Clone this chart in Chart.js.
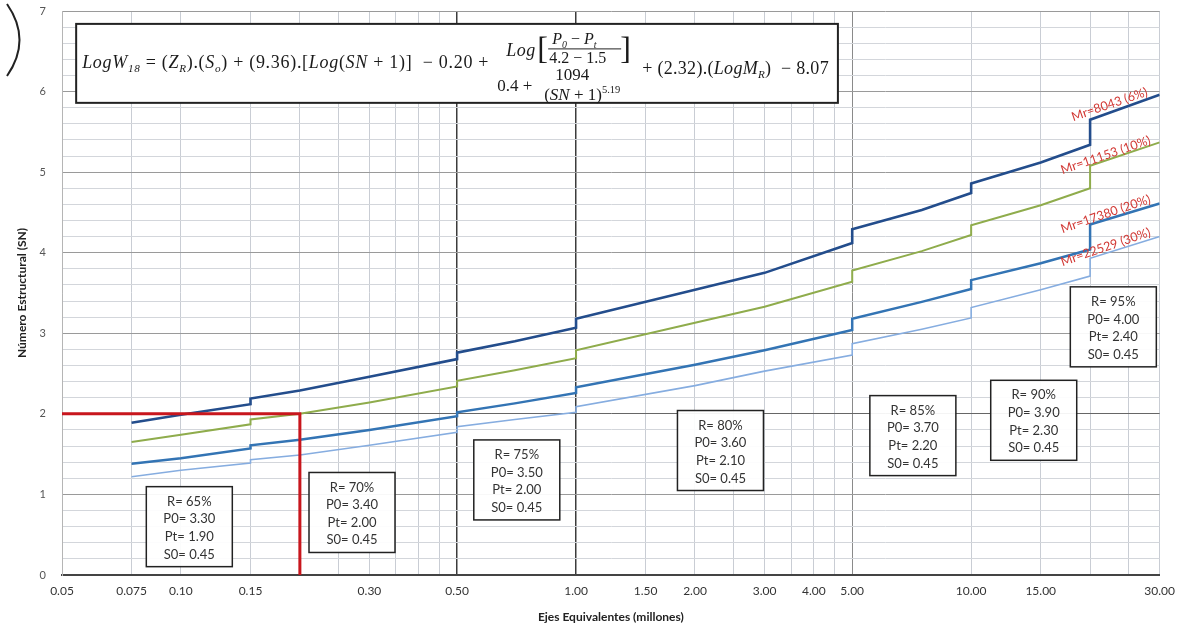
<!DOCTYPE html>
<html>
<head>
<meta charset="utf-8">
<script src="https://cdn.jsdelivr.net/npm/chart.js@4.4.1/dist/chart.umd.min.js"></script>
<style>
  html, body { margin: 0; padding: 0; background: #fff; }
  #wrap { position: relative; width: 1184px; height: 631px; }
</style>
</head>
<body>
<div id="wrap"><canvas id="snChart"></canvas></div>
<script>
// Ejes equivalentes (millones) donde se leen las curvas; los valores repetidos son los saltos
const ejes = [0.075, 0.10, 0.15, 0.15, 0.20, 0.30, 0.50, 0.50, 0.70, 1.00, 1.00, 2.00, 3.00, 5.00, 5.00, 7.50, 10.00, 10.00, 15.00, 20.00, 20.00, 30.00];

// Numero estructural (SN) por modulo resiliente
const snMr8043  = [1.89, 1.99, 2.12, 2.19, 2.29, 2.46, 2.68, 2.76, 2.90, 3.07, 3.18, 3.54, 3.75, 4.12, 4.29, 4.53, 4.74, 4.86, 5.12, 5.34, 5.65, 5.96];
const snMr11153 = [1.65, 1.74, 1.87, 1.93, 2.00, 2.14, 2.34, 2.41, 2.54, 2.69, 2.79, 3.13, 3.33, 3.64, 3.78, 4.02, 4.22, 4.34, 4.59, 4.80, 5.08, 5.37];
const snMr17380 = [1.38, 1.45, 1.57, 1.61, 1.68, 1.80, 1.97, 2.02, 2.13, 2.26, 2.33, 2.61, 2.79, 3.04, 3.18, 3.39, 3.55, 3.66, 3.87, 4.04, 4.35, 4.61];
const snMr22529 = [1.22, 1.30, 1.39, 1.43, 1.49, 1.61, 1.77, 1.84, 1.93, 2.02, 2.09, 2.35, 2.53, 2.73, 2.87, 3.05, 3.19, 3.32, 3.54, 3.71, 3.93, 4.20];

const curvas = ['Mr=8043 (6%)', 'Mr=11153 (10%)', 'Mr=17380 (20%)', 'Mr=22529 (30%)'];
const coloresCurva = ['#234d8c', '#8fac4c', '#3374b4', '#86ade0'];
const anchosCurva = [2.6, 2, 2.5, 1.6];
// donde va cada etiqueta Mr (en unidades del grafico)
const etiquetaX = [22.4, 21.9, 21.9, 21.9];
const etiquetaY = [5.84, 5.21, 4.48, 4.07];

// linea roja de lectura
const lecturaX = [0.05, 0.20, 0.20];
const lecturaY = [2.00, 2.00, 0.00];

// lineas verticales de la grilla y sus rotulos
const xGrid = [0.05, 0.075, 0.10, 0.15, 0.20, 0.25, 0.30, 0.35, 0.40, 0.45, 0.50, 1.00, 1.50, 2.00, 2.50, 3.00, 3.50, 4.00, 4.50, 5.00, 10.00, 15.00, 20.00, 25.00, 30.00];
const xRotulos = ['0.05', '0.075', '0.10', '0.15', '', '', '0.30', '', '', '', '0.50', '1.00', '1.50', '2.00', '', '3.00', '', '4.00', '', '5.00', '10.00', '15.00', '', '', '30.00'];

// cuadros de confiabilidad
const cajaX  = [0.105, 0.271, 0.708, 2.32, 7.12, 14.4, 22.9];
const cajaY  = [0.60, 0.776, 1.18, 1.545, 1.73, 1.92, 3.08];
const cajaR  = ['65', '70', '75', '80', '85', '90', '95'];
const cajaP0 = ['3.30', '3.40', '3.50', '3.60', '3.70', '3.90', '4.00'];
const cajaPt = ['1.90', '2.00', '2.00', '2.10', '2.20', '2.30', '2.40'];
const cajaS0 = ['0.45', '0.45', '0.45', '0.45', '0.45', '0.45', '0.45'];

// esquinas del cuadro de la ecuacion
const ecuacionX = [0.0543, 4.6];
const ecuacionY = [6.84, 5.86];

const SANS = 'Lato, "Open Sans", sans-serif';
const SERIF = '"Liberation Serif", "DejaVu Serif", serif';

function puntos(xs, ys) {
    return xs.map((v, i) => ({ x: v, y: ys[i] }));
}

function tramos(ctx, x0, yBase, partes, size, esp) {
    let xx = x0;
    ctx.letterSpacing = (esp || 0) + 'px';
    partes.forEach(([t, tipo]) => {
        let s = size, dy = 0, estilo = '';
        if (tipo === 'i') estilo = 'italic ';
        if (tipo === 'sub') { s = size * 0.62; dy = size * 0.25; estilo = 'italic '; }
        if (tipo === 'sup') { s = size * 0.62; dy = -size * 0.42; }
        ctx.font = `${estilo}${s}px ${SERIF}`;
        ctx.fillText(t, xx, yBase + dy);
        xx += ctx.measureText(t).width;
    });
    ctx.letterSpacing = '0px';
    return xx;
}

const notas = {
    id: 'notas',
    afterDatasetsDraw(chart) {
        const { ctx, scales: { x, y } } = chart;
        ctx.save();

        // marca del escaneo arriba a la izquierda
        ctx.strokeStyle = '#222';
        ctx.lineWidth = 2;
        ctx.beginPath();
        ctx.moveTo(7, 4);
        ctx.quadraticCurveTo(32, 40, 7, 76);
        ctx.stroke();

        // etiquetas Mr
        ctx.fillStyle = '#d23a36';
        ctx.font = `12.5px ${SANS}`;
        ctx.textAlign = 'center';
        ctx.textBaseline = 'middle';
        curvas.forEach((t, i) => {
            ctx.save();
            ctx.translate(x.getPixelForValue(etiquetaX[i]), y.getPixelForValue(etiquetaY[i]));
            ctx.rotate(-19 * Math.PI / 180);
            ctx.fillText(t, 0, 0);
            ctx.restore();
        });

        // cuadros R / P0 / Pt / S0
        cajaX.forEach((cx, i) => {
            const px = x.getPixelForValue(cx);
            const py = y.getPixelForValue(cajaY[i]);
            const w = 86, h = 80;
            ctx.fillStyle = 'rgba(255,255,255,0.93)';
            ctx.fillRect(px - w / 2, py - h / 2, w, h);
            ctx.strokeStyle = '#222';
            ctx.lineWidth = 1.5;
            ctx.strokeRect(px - w / 2, py - h / 2, w, h);
            ctx.fillStyle = '#333';
            ctx.font = `13px ${SANS}`;
            ctx.textAlign = 'center';
            ctx.textBaseline = 'middle';
            const lineas = [`R= ${cajaR[i]}%`, `P0= ${cajaP0[i]}`, `Pt= ${cajaPt[i]}`, `S0= ${cajaS0[i]}`];
            lineas.forEach((t, k) => ctx.fillText(t, px, py - h / 2 + 15 + k * 17.6));
        });

        // cuadro de la ecuacion AASHTO
        const L = x.getPixelForValue(ecuacionX[0]);
        const R = x.getPixelForValue(ecuacionX[1]);
        const T = y.getPixelForValue(ecuacionY[0]);
        const B = y.getPixelForValue(ecuacionY[1]);
        ctx.fillStyle = '#fff';
        ctx.fillRect(L, T, R - L, B - T);
        ctx.strokeStyle = '#222';
        ctx.lineWidth = 2;
        ctx.strokeRect(L, T, R - L, B - T);

        ctx.fillStyle = '#1a1a1a';
        ctx.textAlign = 'left';
        ctx.textBaseline = 'alphabetic';
        tramos(ctx, L + 6, T + 44, [
            ['LogW', 'i'], ['18', 'sub'], [' = (', ''], ['Z', 'i'], ['R', 'sub'], [').(', ''],
            ['S', 'i'], ['o', 'sub'], [') + (9.36).[', ''], ['Log', 'i'], ['(', ''], ['SN', 'i'],
            [' + 1)]  − 0.20 +', '']
        ], 18, 0.7);

        // numerador: Log [ (P0 - Pt) / (4.2 - 1.5) ]
        tramos(ctx, L + 430, T + 32, [['Log', 'i']], 18, 0.5);
        ctx.font = `32px ${SERIF}`;
        ctx.fillText('[', L + 461, T + 35);
        ctx.fillText(']', L + 544, T + 35);
        tramos(ctx, L + 476, T + 20, [['P', 'i'], ['0', 'sub'], [' − ', ''], ['P', 'i'], ['t', 'sub']], 16);
        ctx.lineWidth = 1;
        ctx.beginPath();
        ctx.moveTo(L + 472, T + 25);
        ctx.lineTo(L + 545, T + 25);
        ctx.stroke();
        tramos(ctx, L + 473, T + 39, [['4.2 − 1.5', '']], 16);

        // denominador: 0.4 + 1094 / (SN + 1)^5.19
        tramos(ctx, L + 421, T + 67, [['0.4 +', '']], 17);
        tramos(ctx, L + 479, T + 56, [['1094', '']], 17);
        tramos(ctx, L + 468, T + 76, [['(', ''], ['SN', 'i'], [' + 1)', ''], ['5.19', 'sup']], 17);

        tramos(ctx, L + 566, T + 50, [
            ['+ (2.32).(', ''], ['LogM', 'i'], ['R', 'sub'], [')  − 8.07', '']
        ], 18, 0.3);

        ctx.restore();
    }
};

const datasets = [{
    label: 'lectura',
    data: puntos(lecturaX, lecturaY),
    borderColor: '#c8161d',
    borderWidth: 3,
    pointRadius: 0,
    tension: 0,
    clip: false
}];

[snMr8043, snMr11153, snMr17380, snMr22529].forEach((serie, i) => {
    datasets.push({
        label: curvas[i],
        data: puntos(ejes, serie),
        borderColor: coloresCurva[i],
        borderWidth: anchosCurva[i],
        pointRadius: 0,
        tension: 0
    });
});

new Chart(document.getElementById('snChart'), {
    type: 'line',
    data: { datasets: datasets },
    options: {
        responsive: true,
        maintainAspectRatio: false,
        animation: false,
        layout: { padding: { top: 11, right: 24, left: 0, bottom: 0 } },
        plugins: { legend: { display: false }, tooltip: { enabled: false } },
        scales: {
            x: {
                type: 'logarithmic',
                min: 0.05,
                max: 30,
                afterBuildTicks: (scale) => { scale.ticks = xGrid.map(v => ({ value: v })); },
                afterFit: (scale) => { scale.height = 56; },
                ticks: {
                    autoSkip: false,
                    maxRotation: 0,
                    minRotation: 0,
                    padding: 9,
                    color: '#333',
                    font: { family: SANS, size: 12 },
                    callback: (value, index) => xRotulos[index]
                },
                grid: {
                    drawTicks: false,
                    color: (c) => {
                        const v = c.tick ? c.tick.value : 0;
                        if (v === 0.5 || v === 1) return '#3c3c3c';
                        if (v === 5) return '#8a8a8a';
                        return '#c9cdd4';
                    },
                    lineWidth: (c) => {
                        const v = c.tick ? c.tick.value : 0;
                        return (v === 0.5 || v === 1) ? 1.5 : 1;
                    }
                },
                border: { color: '#444', width: 2 },
                title: {
                    display: true,
                    text: 'Ejes Equivalentes (millones)',
                    color: '#222',
                    font: { family: SANS, size: 12, weight: 'bold' },
                    padding: { top: 0, bottom: 7 }
                }
            },
            y: {
                min: 0,
                max: 7,
                afterFit: (scale) => {
                    scale.width = 62;
                    scale.paddingTop = 0;
                    scale.paddingBottom = 0;
                },
                ticks: {
                    stepSize: 0.2,
                    autoSkip: false,
                    padding: 16,
                    color: '#555',
                    font: { family: SANS, size: 11 },
                    callback: (value) => {
                        const v = Number(value);
                        return Math.abs(v - Math.round(v)) < 1e-6 ? String(Math.round(v)) : '';
                    }
                },
                grid: {
                    drawTicks: false,
                    color: (c) => {
                        const v = c.tick ? c.tick.value : 0;
                        if (Math.abs(v - 2) < 1e-6) return '#666';
                        return Math.abs(v - Math.round(v)) < 1e-6 ? '#9a9a9a' : '#d3d6db';
                    }
                },
                border: { color: '#b5b5b5', width: 1 },
                title: {
                    display: true,
                    text: 'Número Estructural (SN)',
                    color: '#222',
                    font: { family: SANS, size: 12, weight: 'bold' },
                    padding: { top: 15, bottom: 0 }
                }
            }
        }
    },
    plugins: [notas]
});
</script>
</body>
</html>
